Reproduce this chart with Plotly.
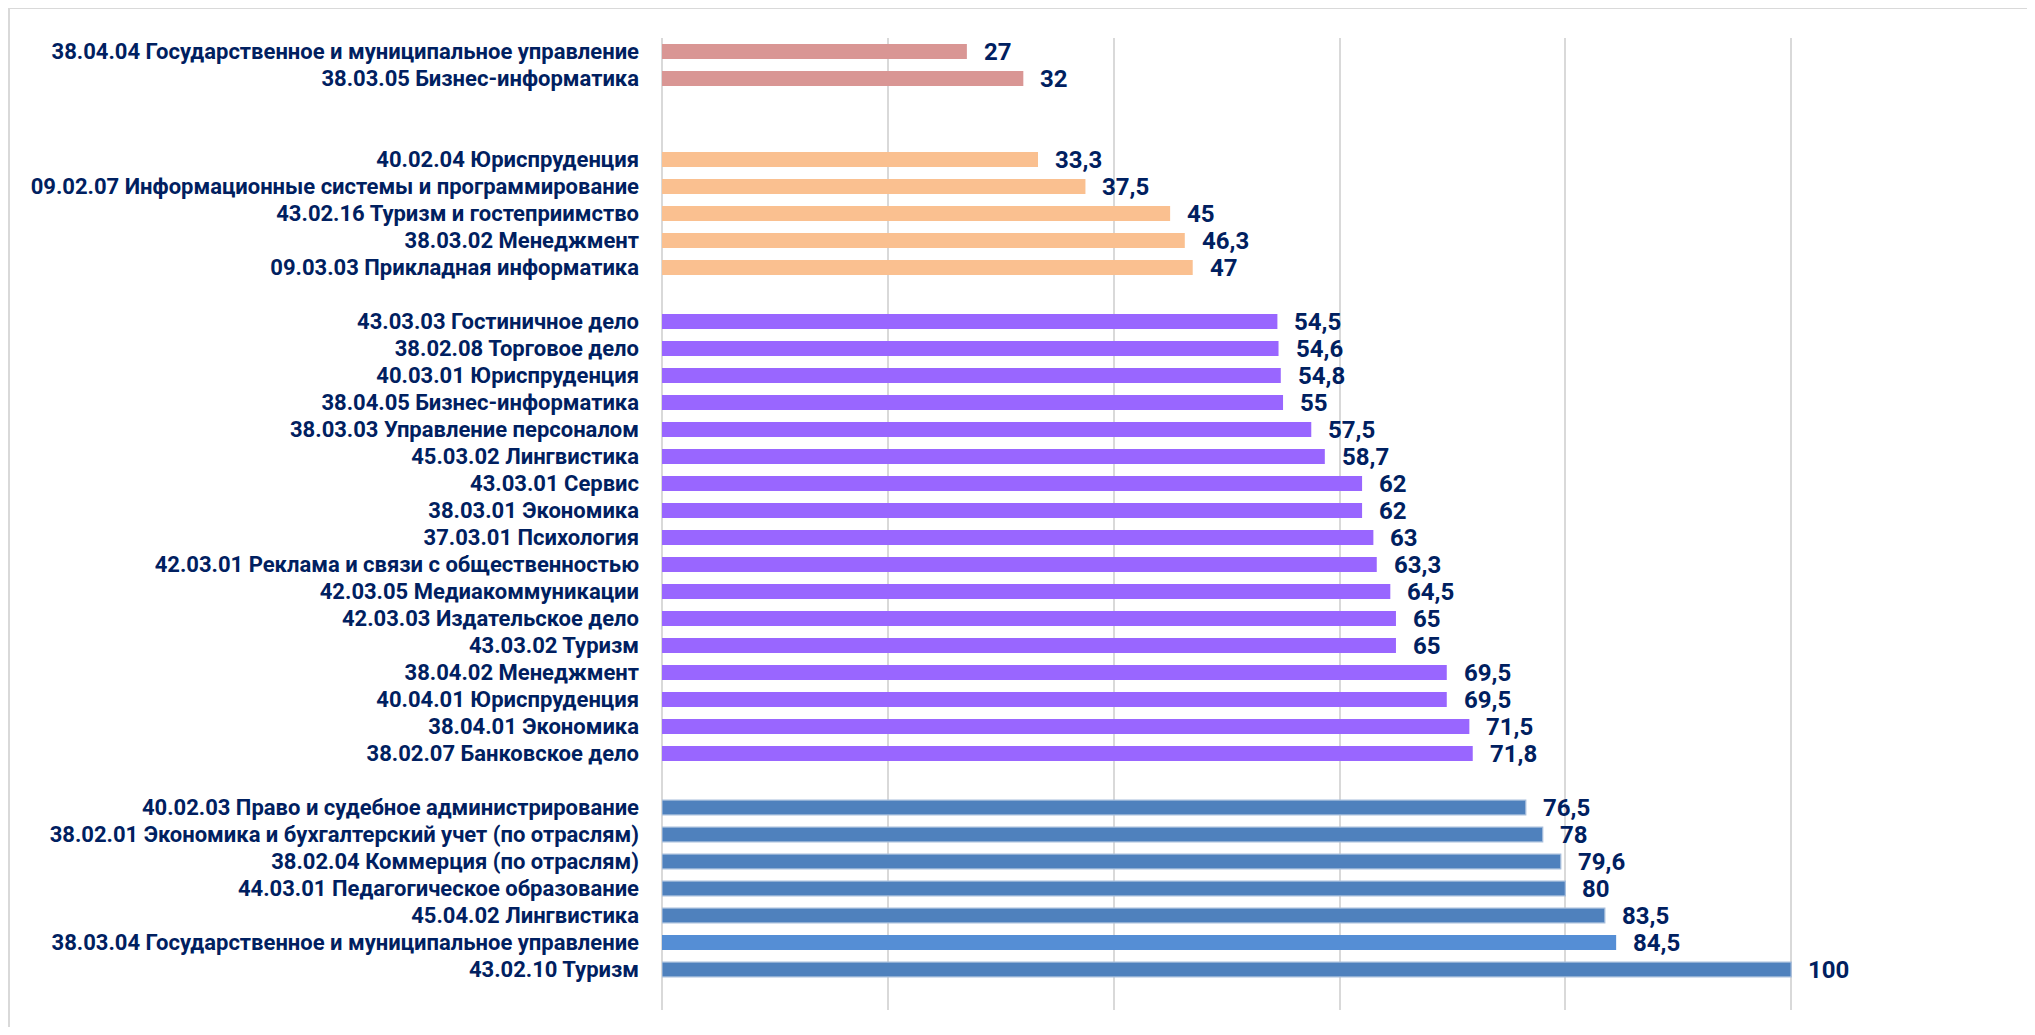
import plotly.graph_objects as go

# ---- data (top to bottom) ----
red_labels = ["38.04.04 Государственное и муниципальное управление",
              "38.03.05 Бизнес-информатика"]
red_values = [27, 32]

orange_labels = ["40.02.04 Юриспруденция",
                 "09.02.07 Информационные системы и программирование",
                 "43.02.16 Туризм и гостеприимство",
                 "38.03.02 Менеджмент",
                 "09.03.03 Прикладная информатика"]
orange_values = [33.3, 37.5, 45, 46.3, 47]

purple_labels = ["43.03.03 Гостиничное дело",
                 "38.02.08 Торговое дело",
                 "40.03.01 Юриспруденция",
                 "38.04.05 Бизнес-информатика",
                 "38.03.03 Управление персоналом",
                 "45.03.02 Лингвистика",
                 "43.03.01 Сервис",
                 "38.03.01 Экономика",
                 "37.03.01 Психология",
                 "42.03.01 Реклама и связи с общественностью",
                 "42.03.05 Медиакоммуникации",
                 "42.03.03 Издательское дело",
                 "43.03.02 Туризм",
                 "38.04.02 Менеджмент",
                 "40.04.01 Юриспруденция",
                 "38.04.01 Экономика",
                 "38.02.07 Банковское дело"]
purple_values = [54.5, 54.6, 54.8, 55, 57.5, 58.7, 62, 62, 63, 63.3, 64.5, 65, 65, 69.5, 69.5, 71.5, 71.8]

blue_labels = ["40.02.03 Право и судебное администрирование",
               "38.02.01 Экономика и бухгалтерский учет (по отраслям)",
               "38.02.04 Коммерция (по отраслям)",
               "44.03.01 Педагогическое образование",
               "45.04.02 Лингвистика",
               "38.03.04 Государственное и муниципальное управление",
               "43.02.10 Туризм"]
blue_values = [76.5, 78, 79.6, 80, 83.5, 84.5, 100]
blue_highlight = "38.03.04 Государственное и муниципальное управление"

x_ticks = [0, 20, 40, 60, 80, 100, 120]

# ---- styles ----
RED = "#D99694"
ORANGE = "#FAC090"
PURPLE = "#9966FF"
BLUE = "#4F81BD"
BLUE_LIGHT = "#558ED5"
NAVY = "#002060"
GRID = "#D9D9D9"
FONT = "Roboto, Arial, sans-serif"

groups = [
    (red_labels, red_values, RED, 0),
    (orange_labels, orange_values, ORANGE, 2),
    (purple_labels, purple_values, PURPLE, 1),
    (blue_labels, blue_values, BLUE, 1),
]

ys, xs, labels, colors, lcolors, lwidths = [], [], [], [], [], []
pos = 0
for labs, vals, col, gap in groups:
    pos += gap
    for lab, v in zip(labs, vals):
        ys.append(pos)
        xs.append(v)
        labels.append(lab)
        if col == BLUE:
            if lab == blue_highlight:
                colors.append(BLUE_LIGHT)
                lcolors.append(BLUE_LIGHT)
                lwidths.append(0)
            else:
                colors.append(BLUE)
                lcolors.append("#A7BEDC")
                lwidths.append(1.2)
        else:
            colors.append(col)
            lcolors.append(col)
            lwidths.append(0)
        pos += 1
n_slots = pos + 1  # one empty slot at the bottom


def fmt(v):
    s = ("%g" % v)
    return s.replace(".", ",")


fig = go.Figure()
fig.add_trace(go.Bar(
    x=xs, y=ys, orientation="h",
    marker=dict(color=colors, line=dict(color=lcolors, width=lwidths)),
    width=0.55,
    hoverinfo="x+text", hovertext=labels,
))

for x, y in zip(xs, ys):
    fig.add_annotation(x=x, y=y, text=fmt(x), showarrow=False,
                       xanchor="left", yanchor="middle", xshift=15,
                       font=dict(family=FONT, size=24, color=NAVY, weight="bold"))

# page offset from default body margin
OFF = 8
W, H = 2035 - 2 * OFF, 1035 - 2 * OFF
ML, MT = 662 - OFF, 38 - OFF
pw, ph = 1355, 972
MR, MB = W - ML - pw, H - MT - ph


def px_x(p):
    return (p - OFF - ML) / pw


def px_y(p):
    return (MT + ph - (p - OFF)) / ph


fig.add_shape(type="rect", xref="paper", yref="paper",
              x0=px_x(9), x1=px_x(2060), y0=px_y(1060), y1=px_y(8),
              line=dict(color=GRID, width=2), fillcolor="rgba(0,0,0,0)", layer="below")

fig.update_layout(
    width=W, height=H,
    margin=dict(l=ML, r=MR, t=MT, b=MB, pad=0),
    paper_bgcolor="white", plot_bgcolor="white",
    showlegend=False,
    font=dict(family=FONT, color=NAVY),
)
fig.update_xaxes(range=[x_ticks[0], x_ticks[-1]], tickvals=x_ticks, showticklabels=False,
                 showgrid=True, gridcolor=GRID, gridwidth=2,
                 zeroline=True, zerolinecolor=GRID, zerolinewidth=2,
                 showline=False, ticks="")
fig.update_yaxes(range=[n_slots - 0.5, -0.5], tickvals=ys, ticktext=labels,
                 showgrid=False, zeroline=False, showline=False, ticks="",
                 ticklabelstandoff=22,
                 tickfont=dict(family=FONT, size=22, color=NAVY, weight="bold"))

fig.write_html("out.html")
